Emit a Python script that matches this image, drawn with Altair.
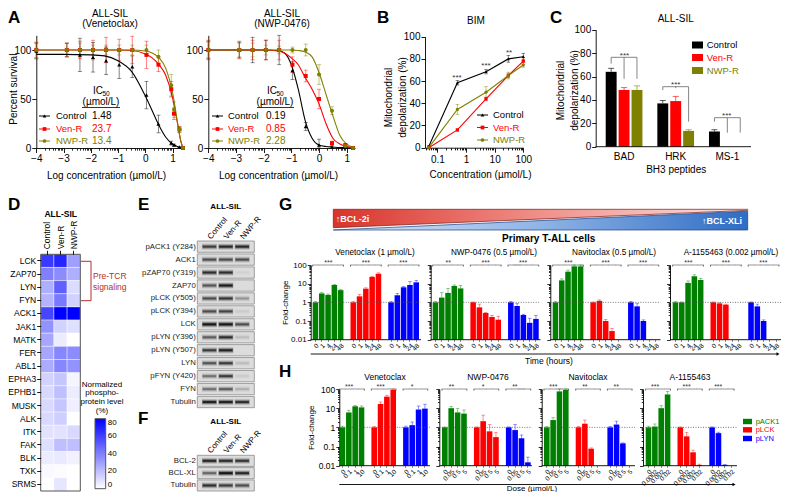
import math
import altair as alt
import pandas as pd

W, H = 774, 484
FONT = "Liberation Sans"
SERIES = ["Control", "Ven-R", "NWP-R"]
SERIES_COLORS = ["#000000", "#ff0000", "#808000"]
SERIES_SHAPES = ["triangle-up", "square", "circle"]
MARKERS = ["pACK1", "pLCK", "pLYN"]
MARKER_COLORS = ["#008000", "#ff0000", "#0000ff"]

# ---- Panel A ----
A_MAJOR_TICKS = [-4, -3, -2, -1, 0, 1]
A1_CURVE_X = [-4, -3, -2, -1.5, -1, -0.5, 0, 0.25, 0.5, 0.75, 1, 1.1, 1.2, 1.3, 1.38]
A1_CONTROL_CURVE = [95.5, 95.5, 95, 94, 89, 78, 53, 38, 23, 11, 4, 2.5, 1, 0.4, 0]
A1_VENR_CURVE = [100, 100, 100, 100, 100, 99.5, 96, 92, 85, 74, 51, 37, 22, 7, 0]
A1_NWPR_CURVE = [100, 100, 100, 100, 100, 100, 99, 97, 92, 81, 56, 40, 22, 7, 0]
A1_X = [-4, -2.88, -2.4, -1.92, -1.44, -0.96, -0.48, 0.04, 0.48, 0.95, 1.05, 1.25, 1.38]
A1_CONTROL = [99, 100, 95, 92.5, 89, 85, 83, 54, 24.5, 5, 3, 1, 0]
A1_CONTROL_ERR = [8, 7, 17, 15, 14, 14, 11, 14, 9, 2, 1, 0, 0]
A1_VENR = [100, 100, 100, 100, 100, 100, 100, 95, 85, 60, 35, 19, 0]
A1_VENR_ERR = [8, 7, 9, 10, 13, 11, 14, 14, 7, 8, 6, 3, 0]
A1_NWPR = [100, 100, 100, 100, 100, 100, 100, 100, 93, 64, 39, 19, 0]
A1_NWPR_ERR = [8, 7, 7, 5, 5, 5, 5, 5, 7, 11, 8, 3, 0]

A2_CURVE_X = [-4, -3, -2, -1.5, -1.25, -1, -0.75, -0.5, -0.25, 0, 0.25, 0.5, 0.75, 1, 1.3]
A2_CONTROL_CURVE = [100, 100, 100, 99.5, 97, 85, 60, 28, 10, 3, 1.5, 1, 0.5, 0.3, 0]
A2_VENR_CURVE = [100, 100, 100, 99, 97, 92, 85, 72, 60, 45, 25, 10, 4, 1.5, 0.5]
A2_NWPR_CURVE = [100, 100, 100, 100, 100, 100, 99.5, 98, 93, 77, 55, 33, 13, 4, 0.5]
A2_X = [-4, -2.88, -2.4, -1.92, -1.44, -0.96, -0.48, 0, 0.47, 0.95, 1.23]
A2_CONTROL = [100, 100, 100, 100, 100, 79, 22, 3, 1, 1, 0]
A2_CONTROL_ERR = [9, 8, 13, 10, 15, 9, 4, 6, 2, 1, 0]
A2_VENR = [100, 100, 100, 100, 100, 85, 73.5, 50, 5, 3, 0]
A2_VENR_ERR = [10, 9, 10, 10, 10, 8, 6, 10, 2, 1, 0]
A2_NWPR = [100, 100, 100, 100, 100, 100, 100, 75, 38, 2, 0]
A2_NWPR_ERR = [8, 7, 7, 5, 4, 3, 6, 10, 4, 1, 0]
A1_IC50 = ["1.48", "23.7", "13.4"]
A2_IC50 = ["0.19", "0.85", "2.28"]

# ---- Panel B ----
B_X = [0.05, 0.5, 5, 30, 100]
B_CONTROL = [1, 58.5, 68.5, 80, 82]
B_CONTROL_ERR = [1, 2, 2, 3, 3]
B_VENR = [0, 16, 44, 65, 78]
B_VENR_ERR = [0, 1, 1.5, 2, 3]
B_NWPR = [0, 34.5, 50, 65, 74.5]
B_NWPR_ERR = [0, 4.5, 5, 3, 2]

# ---- Panel C ----
C_PEPTIDES = ["BAD", "HRK", "MS-1"]
C_CONTROL = [64, 37, 13]
C_CONTROL_ERR = [3, 2.5, 1.5]
C_VENR = [48.5, 39, 0]
C_VENR_ERR = [2, 4, 0]
C_NWPR = [48.5, 13.5, 0]
C_NWPR_ERR = [3.5, 1, 0]
C_BRACKET_TOP = [76.4, 51.3, 24.8]
C_BRACKET_DROP_CONTROL = [71, 48.4, 21.4]
C_BRACKET_DROP_VENR = [58, 50, 12]
C_BRACKET_DROP_NWPR = [58, 21.4, 12]

# ---- Panel D ----
D_PROTEINS = ["LCK", "ZAP70", "LYN", "FYN", "ACK1", "JAK1", "MATK", "FER", "ABL1", "EPHA3",
              "EPHB1", "MUSK", "ALK", "ITK", "FAK", "BLK", "TXK", "SRMS"]
D_CONTROL = [62, 40, 25, 24, 58, 34, 28, 28, 26, 14, 12, 12, 12, 9, 10, 6, 2, 0]
D_VENR = [68, 36, 50, 42, 80, 14, 6, 38, 38, 18, 20, 18, 15, 9, 20, 7, 1, 8]
D_NWPR = [30, 25, 11, 14, 80, 10, 0, 36, 34, 3, 6, 5, 0, 12, 20, 4, 0, 0]

# ---- Panels E, F (band strength, 0-1) ----
E_ROWS = ["pACK1 (Y284)", "ACK1", "pZAP70 (Y319)", "ZAP70", "pLCK (Y505)", "pLCK (Y394)", "LCK",
          "pLYN (Y396)", "pLYN (Y507)", "LYN", "pFYN (Y420)", "FYN", "Tubulin"]
E_CONTROL = [0.7, 0.6, 0.8, 0.55, 0.6, 0.6, 1.0, 0.5, 0.7, 0.55, 0.4, 0.4, 0.9]
E_VENR = [0.85, 0.6, 0.8, 0.95, 0.75, 0.65, 1.0, 0.8, 0.9, 0.7, 0.7, 0.5, 0.9]
E_NWPR = [0.85, 0.6, 0.03, 0.0, 0.25, 0.05, 0.6, 0.1, 0.0, 0.1, 0.05, 0.15, 0.8]
F_ROWS = ["BCL-2", "BCL-XL", "Tubulin"]
F_CONTROL = [0.85, 0.45, 0.8]
F_VENR = [0.8, 1.0, 0.7]
F_NWPR = [0.75, 0.85, 0.6]

# ---- Panel G ----
G_TIMES = ["0", "1", "4", "24", "48"]
G_VEN_ACK1 = [1, 3, 2.5, 8.5, 4.5]
G_VEN_ACK1_UP = [1.1, 3.3, 2.8, 9, 5]
G_VEN_LCK = [1, 2.1, 5.4, 23, 34]
G_VEN_LCK_UP = [1.1, 2.6, 6, 25, 38]
G_VEN_LYN = [1, 2.4, 6.4, 8.5, 11.8]
G_VEN_LYN_UP = [1.1, 3, 7, 13, 15]
G_NWP_ACK1 = [1, 1.8, 3.2, 7.5, 5.6]
G_NWP_ACK1_UP = [1.1, 3.3, 5.5, 8.5, 8]
G_NWP_LCK = [1, 0.54, 0.27, 0.165, 0.118]
G_NWP_LCK_UP = [1.05, 0.8, 0.29, 0.2, 0.18]
G_NWP_LYN = [1, 0.64, 0.21, 0.08, 0.13]
G_NWP_LYN_UP = [1.1, 0.85, 0.23, 0.14, 0.2]
G_NAV_ACK1 = [1, 15, 44, 85, 85]
G_NAV_ACK1_UP = [1.1, 18, 53, 100, 100]
G_NAV_LCK = [1, 1.2, 0.1, 0.029, None]
G_NAV_LCK_UP = [1.05, 1.35, 0.12, 0.04, None]
G_NAV_LYN = [1, 0.61, 0.1, None, None]
G_NAV_LYN_UP = [1.1, 0.85, 0.115, None, None]
G_A11_ACK1 = [1, 1, 11, 25, 15.7]
G_A11_ACK1_UP = [1.1, 1.05, 14, 30, 19]
G_A11_LCK = [1, 0.88, 0.75, None, None]
G_A11_LCK_UP = [1.05, 0.95, 0.8, None, None]
G_A11_LYN = [1, 0.61, 0.1, None, None]
G_A11_LYN_UP = [1.05, 0.8, 0.115, None, None]
G_STARS = [["***", "***", "***"], ["**", "***", "***"], ["***", "***", "***"], ["***", "***", "***"]]
G_TITLES = ["Venetoclax (1 µmol/L)", "NWP-0476 (0.5 µmol/L)", "Navitoclax (0.5 µmol/L)", "A-1155463 (0.002 µmol/L)"]

# ---- Panel H ----
H_DOSES_VEN = ["0", "0.1", "1", "10"]
H_DOSES_NWP = ["0", "0.05", "0.5", "5"]
H_DOSES_NAV = ["0", "0.05", "0.5", "5"]
H_DOSES_A11 = ["0", "0.0002", "0.002", "0.02"]
H_VEN_ACK1 = [1, 6, 12.5, 11]
H_VEN_ACK1_UP = [1.15, 7.8, 14, 13]
H_VEN_LCK = [1, 16.5, 40, 90]
H_VEN_LCK_UP = [1.1, 21, 47, 100]
H_VEN_LYN = [1, 1.3, 8.5, 9.5]
H_VEN_LYN_UP = [1.15, 1.9, 13, 16]
H_NWP_ACK1 = [1, 10, 6, 5.2]
H_NWP_ACK1_UP = [1.05, 12.5, 9.5, 8]
H_NWP_LCK = [1, 2.1, 0.62, 0.31]
H_NWP_LCK_UP = [1.05, 4.3, 1.4, 0.55]
H_NWP_LYN = [1, 0.72, 0.27, 0.015]
H_NWP_LYN_UP = [1.05, 1.4, 0.4, 0.028]
H_NAV_ACK1 = [1, 2.4, 75, 90]
H_NAV_ACK1_UP = [1.1, 3.2, 100, 100]
H_NAV_LCK = [1, 1.55, 0.077, None]
H_NAV_LCK_UP = [1.1, 2.4, 0.085, None]
H_NAV_LYN = [1, 1.4, 0.146, None]
H_NAV_LYN_UP = [1.1, 2.1, 0.155, None]
H_A11_ACK1 = [1, 1.1, 10, 52]
H_A11_ACK1_UP = [1.15, 1.5, 13.5, 75]
H_A11_LCK = [1, 0.34, 0.05, 0.011]
H_A11_LCK_UP = [1.05, 0.55, 0.065, 0.012]
H_A11_LYN = [1, 0.5, 0.011, None]
H_A11_LYN_UP = [1.05, 0.56, 0.0115, None]
H_STARS = [["***", "***", "*"], ["**", "*", "**"], ["***", "**", "**"], ["***", "***", "***"]]
H_TITLES = ["Venetoclax", "NWP-0476", "Navitoclax", "A-1155463"]


def P(v):
    """Reference pixel (page) to chart pixel."""
    return round(v - 8, 2)


layers = []


def note(s, x, y, size=10, color="black", align="center", weight="normal", angle=0, baseline="middle"):
    mk = dict(fontSize=size, color=color, align=align, fontWeight=weight, baseline=baseline)
    if angle:
        mk["angle"] = angle
    layers.append(alt.Chart().mark_text(**mk).encode(
        x=alt.value(P(x)), y=alt.value(P(y)), text=alt.value(s)))


def hline(x0, x1, y, color="black", width=1.0):
    layers.append(alt.Chart().mark_rule(color=color, strokeWidth=width).encode(
        x=alt.value(P(x0)), x2=alt.value(P(x1)), y=alt.value(P(y))))


def vline(x, y0, y1, color="black", width=1.0):
    layers.append(alt.Chart().mark_rule(color=color, strokeWidth=width).encode(
        x=alt.value(P(x)), y=alt.value(P(y0)), y2=alt.value(P(y1))))


def marker(x, y, color, shape, size=14):
    layers.append(alt.Chart().mark_point(filled=True, color=color, shape=shape, size=size, opacity=1).encode(
        x=alt.value(P(x)), y=alt.value(P(y))))


def legend_sample(x0, x1, y, color, shape):
    hline(x0, x1, y, color, 1)
    marker((x0 + x1) / 2, y, color, shape)


def offset_bottom(y):
    return round(P(y) - H, 2)


series_color = alt.Color("series:N", scale=alt.Scale(domain=SERIES, range=SERIES_COLORS), legend=None)
series_shape = alt.Shape("series:N", scale=alt.Scale(domain=SERIES, range=SERIES_SHAPES), legend=None)


def long_points(x, vals, errs):
    rows = []
    for name, v, e in zip(SERIES, vals, errs):
        for a, b, c in zip(x, v, e):
            rows.append(dict(x=a, y=b, lo=max(b - c, 0), hi=b + c, series=name))
    return pd.DataFrame(rows)


def long_curve(x, vals):
    rows = []
    for name, v in zip(SERIES, vals):
        for a, b in zip(x, v):
            rows.append(dict(x=a, y=b, series=name))
    return pd.DataFrame(rows)


def line_panel(xs, ys, xaxis, yaxis, curve, pts, point_size=16, interp="monotone", cap=4, minor_axis=None):
    X = lambda ax=None: alt.X("x:Q", scale=xs, axis=ax, title=None)
    Y = lambda ax=None, f="y": alt.Y(f + ":Q", scale=ys, axis=ax, title=None)
    layers.extend([
        alt.Chart(pts).mark_rule(strokeWidth=0.9, opacity=0.55).encode(
            x=X(xaxis), y=Y(yaxis, "lo"), y2="hi:Q", color=series_color),
        alt.Chart(pts).mark_tick(orient="horizontal", size=cap, thickness=0.8, opacity=0.55).encode(
            x=X(minor_axis), y=Y(None, "hi"), color=series_color),
        alt.Chart(pts).mark_tick(orient="horizontal", size=cap, thickness=0.8, opacity=0.55).encode(
            x=X(), y=Y(None, "lo"), color=series_color),
        alt.Chart(curve).mark_line(strokeWidth=1.1, interpolate=interp).encode(
            x=X(), y=Y(), color=series_color, detail="series:N"),
        alt.Chart(pts).mark_point(filled=True, opacity=1, size=point_size).encode(
            x=X(), y=Y(), color=series_color, shape=series_shape),
    ])


# ---------- Panel A ----------
def a_minor_ticks():
    out = []
    for k in A_MAJOR_TICKS:
        for j in range(2, 10):
            v = k + math.log10(j)
            if v <= 1.3:
                out.append(round(v, 4))
    return out


def a_axis_x(y0, title, title_x):
    return alt.Axis(values=A_MAJOR_TICKS, format="d", orient="bottom", offset=offset_bottom(y0), title=title,
                    titleX=title_x, titleY=27, titleBaseline="middle", tickSize=4.5, labelFontSize=10, labelPadding=1,
                    labelOverlap=False, labelFlush=False)


def a_axis_minor(y0):
    return alt.Axis(values=a_minor_ticks(), orient="bottom", offset=offset_bottom(y0), title=None, labels=False,
                    domain=False, tickSize=2.2, tickWidth=0.8)


for (x0, x1, xmax, tx, cx, c1, c2, c3, px_, p1, e1, p2, e2, p3, e3, ytitle) in [
    (36.3, 183, 1.38, P(106), A1_CURVE_X, A1_CONTROL_CURVE, A1_VENR_CURVE, A1_NWPR_CURVE, A1_X,
     A1_CONTROL, A1_CONTROL_ERR, A1_VENR, A1_VENR_ERR, A1_NWPR, A1_NWPR_ERR, True),
    (208.3, 355, 1.3, P(278), A2_CURVE_X, A2_CONTROL_CURVE, A2_VENR_CURVE, A2_NWPR_CURVE, A2_X,
     A2_CONTROL, A2_CONTROL_ERR, A2_VENR, A2_VENR_ERR, A2_NWPR, A2_NWPR_ERR, False),
]:
    xs = alt.Scale(domain=[-4, xmax], range=[P(x0), P(x1)], nice=False, zero=False)
    ys = alt.Scale(domain=[0, 115], range=[P(148), P(35.3)], nice=False, zero=False)
    yax = dict(values=[0, 50, 100], orient="left", offset=-P(x0), tickSize=4.5, labelFontSize=10, labelPadding=1,
               labelOverlap=False)
    if ytitle:
        yax.update(title="Percent survival", titleX=round(13 - x0, 1), titleY=P(88.7), titleBaseline="middle")
    else:
        yax.update(title=None)
    line_panel(xs, ys, a_axis_x(148, "Log concentration (µmol/L)", tx), alt.Axis(**yax),
               long_curve(cx, [c1, c2, c3]),
               long_points(px_, [p1, p2, p3], [e1, e2, e3]),
               minor_axis=a_axis_minor(148))

note("ALL-SIL", 110, 13.5)
note("(Venetoclax)", 110, 24)
note("ALL-SIL", 282, 13.5)
note("(NWP-0476)", 282, 24)
for xl0, xl1, xt, xn, xc, ul0, ul1, ics in [(39, 50, 56, 92, 98, 82, 120, A1_IC50), (212, 223, 228, 266, 272, 257, 294, A2_IC50)]:
    note("IC", xc, 91, 10, align="center")
    note("50", xc + 8, 93.5, 6.5, align="center")
    note("(µmol/L)", xc + 3, 102, 10)
    hline(ul0, ul1, 107.5, "black", 0.8)
    for ser, col, shp, yy, ic in zip(SERIES, SERIES_COLORS, SERIES_SHAPES, [116, 129, 141], ics):
        legend_sample(xl0, xl1, yy, col, shp)
        note(ser, xt, yy, 9.5, col, align="left")
        note(ic, xn, yy, 10, col, align="left")

# ---------- Panel B ----------
b_ticks = [round(j * 10.0 ** k, 4) for k in range(-2, 2) for j in range(1, 10)]
b_ticks = [v for v in b_ticks if v >= 0.04] + [100]
b_xs = alt.Scale(type="log", domain=[0.037, 100], range=[P(425), P(523.3)], nice=False)
b_ys = alt.Scale(domain=[0, 100], range=[P(147.7), P(36.7)], nice=False, zero=False)
b_major = "datum.value==0.1||datum.value==1||datum.value==10||datum.value==100"
line_panel(
    b_xs, b_ys,
    alt.Axis(values=b_ticks, format="~g", orient="bottom", offset=offset_bottom(147.7), title="Concentration (µmol/L)",
             titleX=P(480), titleY=27, titleBaseline="middle", labelFontSize=10, labelPadding=2,
             labelExpr=f"{b_major} ? datum.label : ''", labelOverlap=False, labelFlush=False,
             tickSize={"condition": {"test": b_major, "value": 4.5}, "value": 2.2}),
    alt.Axis(values=[0, 20, 40, 60, 80, 100], orient="left", offset=-P(425), tickSize=4, labelFontSize=10, labelPadding=1,
             title=["Mitochondrial", "depolarization  (%)"], titleX=round(388 - 425, 1), titleY=P(97),
             titleBaseline="middle", titleLineHeight=14, labelOverlap=False),
    long_curve(B_X, [B_CONTROL, B_VENR, B_NWPR]),
    long_points(B_X, [B_CONTROL, B_VENR, B_NWPR], [B_CONTROL_ERR, B_VENR_ERR, B_NWPR_ERR]),
    point_size=10, interp="linear", cap=3.5)
note("BIM", 476, 21)
note("***", 457, 78, 8, "#333")
note("***", 486, 66, 8, "#333")
note("**", 509, 53, 8, "#333")
for ser, col, shp, yy in zip(SERIES, SERIES_COLORS, SERIES_SHAPES, [115, 127.5, 140]):
    legend_sample(477, 488, yy, col, shp)
    note(ser, 493, yy, 9.5, col, align="left")

# ---------- Panel C ----------
c_rows, c_domain = [], []
for i, pep in enumerate(C_PEPTIDES):
    if i:
        c_domain.append(f"gap{i}")
    for ser, v, e in zip(SERIES, [C_CONTROL, C_VENR, C_NWPR], [C_CONTROL_ERR, C_VENR_ERR, C_NWPR_ERR]):
        key = f"{pep}|{ser}"
        c_domain.append(key)
        c_rows.append(dict(key=key, y=v[i], hi=v[i] + e[i], series=ser))
c_df = pd.DataFrame(c_rows)
c_df_vis = c_df[c_df.y > 0]
c_xs = alt.Scale(domain=c_domain, range=[P(605.7), P(745.7)], paddingInner=0.154, paddingOuter=0)
c_ys = alt.Scale(domain=[0, 100], range=[P(146.7), P(29.7)], nice=False, zero=False)
CX = lambda ax=None: alt.X("key:N", scale=c_xs, axis=ax, title=None, sort=None)
CY = lambda ax=None, f="y": alt.Y(f + ":Q", scale=c_ys, axis=ax, title=None)
c_top = pd.DataFrame([dict(key=f"{p}|Control", key2=f"{p}|NWP-R", y=t) for p, t in zip(C_PEPTIDES, C_BRACKET_TOP)])
c_drops = []
for p, t, a, b, c in zip(C_PEPTIDES, C_BRACKET_TOP, C_BRACKET_DROP_CONTROL, C_BRACKET_DROP_VENR, C_BRACKET_DROP_NWPR):
    for ser, d in zip(SERIES, [a, b, c]):
        c_drops.append(dict(key=f"{p}|{ser}", y=t, y2=d))
layers.extend([
    alt.Chart(c_df_vis).mark_rule(strokeWidth=0.9, opacity=0.7).encode(
        x=CX(alt.Axis(values=[f"{p}|Ven-R" for p in C_PEPTIDES], orient="bottom", offset=offset_bottom(146.7), tickSize=0,
                      labelExpr="split(datum.value,'|')[0]", labelAngle=0, labelFontSize=10, labelPadding=5,
                      title="BH3 peptides", titleFontSize=10, titleY=22.5, titleBaseline="middle", titleX=P(675.7),
                      domain=False, zindex=1)),
        y=CY(alt.Axis(values=[0, 20, 40, 60, 80, 100], orient="left", offset=-P(595.7), tickSize=4, labelFontSize=10,
                      labelPadding=1, title=["Mitochondrial", "depolarization (%)"], titleX=round(560 - 595.7, 1),
                      titleY=P(90), titleBaseline="middle", titleLineHeight=14, labelOverlap=False)),
        y2="hi:Q", color=series_color),
    alt.Chart(c_df_vis).mark_tick(orient="horizontal", size=6, thickness=0.9, opacity=0.7).encode(
        x=CX(), y=CY(None, "hi"), color=series_color),
    alt.Chart(c_df_vis).mark_bar().encode(x=CX(), y=CY(), color=series_color),
    alt.Chart(c_top).mark_rule(color="#666666", strokeWidth=0.8).encode(x=CX(), x2="key2:N", y=CY()),
    alt.Chart(pd.DataFrame(c_drops)).mark_rule(color="#666666", strokeWidth=0.8).encode(x=CX(), y=CY(), y2="y2:Q"),
])
hline(595.7, 751, 146.7, "black", 0.9)
note("ALL-SIL", 675.7, 18.5)
note("***", 624.5, 56, 8, "#333")
note("***", 675.7, 85, 8, "#333")
note("***", 726.7, 116, 8, "#333")
for ser, col, yy in zip(SERIES, SERIES_COLORS, [45, 57.5, 70.5]):
    layers.append(alt.Chart().mark_rect(color=col).encode(
        x=alt.value(P(692)), x2=alt.value(P(703)), y=alt.value(P(yy - 3.5)), y2=alt.value(P(yy + 3.5))))
    note(ser, 706.7, yy, 9.5, col, align="left")

# ---------- Panel D ----------
DX = 5
d_rows = []
for i, prot in enumerate(D_PROTEINS):
    for ser, v in zip(SERIES, [D_CONTROL, D_VENR, D_NWPR]):
        d_rows.append(dict(protein=prot, series=ser, level=v[i]))
layers.append(alt.Chart(pd.DataFrame(d_rows)).mark_rect(stroke="white", strokeWidth=0.4).encode(
    x=alt.X("series:N", sort=SERIES, title=None,
            scale=alt.Scale(domain=SERIES, range=[P(35.7 + DX), P(75.3 + DX)], paddingInner=0, paddingOuter=0),
            axis=alt.Axis(orient="top", offset=-P(254.3), domain=False, tickSize=4, labelAngle=270, labelFontSize=8.5,
                          labelPadding=1.5)),
    y=alt.Y("protein:N", sort=D_PROTEINS, title=None,
            scale=alt.Scale(domain=D_PROTEINS, range=[P(254.3), P(491)], paddingInner=0, paddingOuter=0),
            axis=alt.Axis(orient="left", offset=-P(35.7 + DX), domain=False, tickSize=4, labelFontSize=8.5, labelPadding=1)),
    color=alt.Color("level:Q", scale=alt.Scale(domain=[0, 80], range=["#ffffff", "#0000ff"], interpolate="rgb"),
                    legend=alt.Legend(orient="none", legendX=P(90 + DX), legendY=P(418.7), direction="vertical", title=None,
                                      values=[0, 20, 40, 60, 80], gradientLength=70, gradientThickness=10.7,
                                      gradientStrokeColor="#555555", gradientStrokeWidth=1, labelFontSize=8, labelOffset=2,
                                      tickCount=5)),
))
layers.append(alt.Chart().mark_rect(fill="transparent", stroke="#555555", strokeWidth=1).encode(
    x=alt.value(P(35.7 + DX)), x2=alt.value(P(75.3 + DX)), y=alt.value(P(254.3)), y2=alt.value(P(491))))
note("ALL-SIL", 55.7 + DX, 214, 8.5, weight="bold")
BR = "#b5302a"
hline(76 + DX, 86 + DX, 261.3, BR, 1)
hline(76 + DX, 86 + DX, 300.7, BR, 1)
vline(86 + DX, 261.3, 300.7, BR, 1)
note("Pre-TCR", 88 + DX, 276, 8.5, BR, align="left")
note("signaling", 88 + DX, 286.5, 8.5, BR, align="left")
for s, yy in zip(["Normalized", "phospho-", "protein level", "(%)"], [384.7, 393.3, 402.3, 411.3]):
    note(s, 97 + DX, yy, 8)


# ---------- Panels E, F ----------
def blot(rows, c, v, n, y0, y1, pad, label_y):
    lanes = SERIES
    data = []
    for i, r in enumerate(rows):
        for lane, arr in zip(lanes, [c, v, n]):
            s = arr[i]
            data.append(dict(row=r, lane=lane, a=s * 0.92, b=s * 0.4, d=s * 0.2))
    df = pd.DataFrame(data)
    bg = pd.DataFrame({"row": rows})
    xs = alt.Scale(domain=lanes, range=[P(197.3), P(254.3)], paddingInner=0, paddingOuter=0.24)
    ys = alt.Scale(domain=rows, range=[P(y0), P(y1)], paddingInner=pad, paddingOuter=0)
    X = lambda ax=None: alt.X("lane:N", sort=lanes, scale=xs, axis=ax, title=None)
    Y = lambda ax=None: alt.Y("row:N", sort=rows, scale=ys, axis=ax, title=None)
    def band(col, thick, size, ax=None):
        return alt.Chart(df).mark_tick(orient="horizontal", size=size, thickness=thick, color="#101010").encode(
            x=X(ax), y=Y(), opacity=alt.Opacity(f"{col}:Q", scale=None))
    layers.extend([
        alt.Chart(bg).mark_rect(fill="#dcdcdc", stroke="#8a8a8a", strokeWidth=0.8).encode(
            y=Y(alt.Axis(orient="left", offset=-P(197.3), domain=False, ticks=False, labelFontSize=7.8, labelPadding=2,
                         labelColor="#222222")),
            x=alt.value(P(197.3)), x2=alt.value(P(254.3))),
        band("d", 6, 15),
        band("b", 4, 14.5),
        band("a", 2, 13.5, alt.Axis(orient="top", offset=-P(label_y), domain=False, ticks=False, labelAngle=310,
                                    labelAlign="left", labelBaseline="middle", labelFontSize=8, labelPadding=0)),
    ])


blot(E_ROWS, E_CONTROL, E_VENR, E_NWPR, 241, 407.7, 0.127, 238)
blot(F_ROWS, F_CONTROL, F_VENR, F_NWPR, 455.3, 491, 0.1, 452)
note("ALL-SIL", 225.7, 207, 8, weight="bold")
note("ALL-SIL", 225.7, 422, 8, weight="bold")


# ---------- Panels G, H bars ----------
y_ticks = [round(j * 10.0 ** k, 4) for k in range(-2, 2) for j in range(1, 10)] + [100]
y_major = "datum.value==0.01||datum.value==0.1||datum.value==1||datum.value==10||datum.value==100"
marker_color = alt.Color("marker:N", scale=alt.Scale(domain=MARKERS, range=MARKER_COLORS), legend=None)


def bar_panel(x0, x1, b0, b1, yb, yt, labels, values, ups, stars, first, y_title_x, label_font, tick_font):
    domain, rows, groups = [], [], []
    for m, (name, v, u) in enumerate(zip(MARKERS, values, ups)):
        if m:
            domain.append(f"gap{m}")
        keys = [f"{name}|{lab}" for lab in labels]
        domain.extend(keys)
        groups.append(keys)
        for k, a, b in zip(keys, v, u):
            if a is not None:
                rows.append(dict(key=k, y=a, hi=b, base=0.01, marker=name))
    df = pd.DataFrame(rows)
    shown = [k for g in groups for k in g]
    xs = alt.Scale(domain=domain, range=[P(b0), P(b1)], paddingInner=0.12, paddingOuter=0)
    ys = alt.Scale(type="log", domain=[0.01, 100], range=[P(yb), P(yt)], nice=False)
    X = lambda ax=None: alt.X("key:N", scale=xs, axis=ax, title=None, sort=None)
    Y = lambda ax=None, f="y": alt.Y(f + ":Q", scale=ys, axis=ax, title=None)
    yargs = dict(values=y_ticks, orient="left", offset=-P(x0), labelOverlap=False, labelFlush=False,
                 tickSize={"condition": {"test": y_major, "value": 3.5}, "value": 1.8}, tickWidth=0.8)
    if first:
        yargs.update(format="~g", labelExpr=f"{y_major} ? datum.label : ''", labelFontSize=tick_font, labelPadding=1,
                     title="Fold-change", titleFontSize=8, titleX=y_title_x, titleBaseline="middle")
    else:
        yargs.update(labels=False, title=None)
    step = (b1 - b0) / (len(domain) - 0.12)
    bracket_rows, hook0, hook1, star_rows = [], [], [], []
    for g, s in zip(groups, stars):
        for k in g:
            bracket_rows.append(dict(key=k, y=100))
        hook0.append(dict(key=g[0], y=100, y2=82))
        hook1.append(dict(key=g[-1], y=100, y2=82))
        mid = g[len(g) // 2] if len(g) % 2 else g[len(g) // 2 - 1]
        star_rows.append(dict(key=mid, y=100, s=s))
    star_band = 0.5 if len(labels) % 2 else 1
    dotted = alt.Chart().mark_rule(strokeDash=[1, 1.5], color="#555555", strokeWidth=0.8).encode(
        y=alt.Y(datum=1, type="quantitative", scale=ys, axis=None, title=None),
        x=alt.value(P(x0)), x2=alt.value(P(x1)))
    layers.extend([
        alt.Chart(df).mark_rule(strokeWidth=0.9, opacity=0.5).encode(
            x=X(alt.Axis(values=shown, orient="bottom", offset=offset_bottom(yb), tickSize=1.5, tickWidth=0.6, domain=False,
                         labelExpr="split(datum.value,'|')[1]", labelAngle=315, labelFontSize=label_font, labelPadding=1,
                         labelOverlap=False, labelFlush=False, zindex=1)),
            y=Y(alt.Axis(**yargs)), y2="hi:Q", color=marker_color),
        alt.Chart(df).mark_tick(orient="horizontal", size=3.5, thickness=0.8, opacity=0.5).encode(
            x=X(), y=Y(None, "hi"), color=marker_color),
        alt.Chart(df).mark_bar().encode(x=X(), y=Y(), y2="base:Q", color=marker_color),
        dotted,
        alt.Chart(pd.DataFrame(bracket_rows)).mark_tick(orient="horizontal", size=round(step + 0.3, 2), thickness=0.8,
                                                        color="#444444").encode(x=X(), y=Y()),
        alt.Chart(pd.DataFrame(hook0)).mark_rule(color="#444444", strokeWidth=0.7).encode(
            x=alt.X("key:N", scale=xs, axis=None, title=None, sort=None, bandPosition=0), y=Y(), y2="y2:Q"),
        alt.Chart(pd.DataFrame(hook1)).mark_rule(color="#444444", strokeWidth=0.7).encode(
            x=alt.X("key:N", scale=xs, axis=None, title=None, sort=None, bandPosition=1), y=Y(), y2="y2:Q"),
        alt.Chart(pd.DataFrame(star_rows)).mark_text(fontSize=7, color="#333333", dy=-2.5, baseline="middle").encode(
            x=alt.X("key:N", scale=xs, axis=None, title=None, sort=None, bandPosition=star_band), y=Y(), text="s:N"),
    ])
    hline(x0, x1, yb, "black", 0.9)


G_VALUES = [
    ([G_VEN_ACK1, G_VEN_LCK, G_VEN_LYN], [G_VEN_ACK1_UP, G_VEN_LCK_UP, G_VEN_LYN_UP]),
    ([G_NWP_ACK1, G_NWP_LCK, G_NWP_LYN], [G_NWP_ACK1_UP, G_NWP_LCK_UP, G_NWP_LYN_UP]),
    ([G_NAV_ACK1, G_NAV_LCK, G_NAV_LYN], [G_NAV_ACK1_UP, G_NAV_LCK_UP, G_NAV_LYN_UP]),
    ([G_A11_ACK1, G_A11_LCK, G_A11_LYN], [G_A11_ACK1_UP, G_A11_LCK_UP, G_A11_LYN_UP]),
]
G_AXIS_X = [(310.7, 421, 312.7, 419), (430.7, 540.5, 432.7, 538.7), (550.3, 660.5, 552.7, 658.7), (670, 781, 672.7, 779)]
G_TITLE_X = [375, 494, 614, 731]
for i, ((v, u), (a, b, c, d)) in enumerate(zip(G_VALUES, G_AXIS_X)):
    bar_panel(a, b, c, d, 339.7, 265, G_TIMES, v, u, G_STARS[i], i == 0, round(285 - 310.7, 1), 6.5, 8)
    note(G_TITLES[i], G_TITLE_X[i], 253, 8.2)

H_VALUES = [
    (H_DOSES_VEN, [H_VEN_ACK1, H_VEN_LCK, H_VEN_LYN], [H_VEN_ACK1_UP, H_VEN_LCK_UP, H_VEN_LYN_UP]),
    (H_DOSES_NWP, [H_NWP_ACK1, H_NWP_LCK, H_NWP_LYN], [H_NWP_ACK1_UP, H_NWP_LCK_UP, H_NWP_LYN_UP]),
    (H_DOSES_NAV, [H_NAV_ACK1, H_NAV_LCK, H_NAV_LYN], [H_NAV_ACK1_UP, H_NAV_LCK_UP, H_NAV_LYN_UP]),
    (H_DOSES_A11, [H_A11_ACK1, H_A11_LCK, H_A11_LYN], [H_A11_ACK1_UP, H_A11_LCK_UP, H_A11_LYN_UP]),
]
H_AXIS_X = [(339.3, 430, 339.7, 427.7), (439.3, 532, 442, 530.7), (541.7, 635, 544, 632), (643, 737, 645.7, 734)]
H_TITLE_X = [385, 488, 588, 690]
for i, ((l, v, u), (a, b, c, d)) in enumerate(zip(H_VALUES, H_AXIS_X)):
    bar_panel(a, b, c, d, 465.7, 389, l, v, u, H_STARS[i], i == 0, round(311.7 - 339.3, 1), 6.5, 8.5)
    note(H_TITLES[i], H_TITLE_X[i], 377, 8.5)

# ---------- Banner ----------
BANNER_POS = [0, 1]
RED_TOP = [1, 1]
RED_BOTTOM = [0.11, 0.95]
BLUE_TOP = [0, 0.91]
BLUE_BOTTOM = [0, 0]
bx = alt.Scale(domain=[0, 1], range=[P(333.3), P(747.7)], nice=False, zero=False)
by = alt.Scale(domain=[0, 1], range=[P(230), P(209.3)], nice=False, zero=False)
banner = pd.DataFrame(dict(p=BANNER_POS, rt=RED_TOP, rb=RED_BOTTOM, bt=BLUE_TOP, bb=BLUE_BOTTOM))
red_grad = alt.LinearGradient(gradient="linear", stops=[alt.GradientStop(color="#d8342b", offset=0),
                                                        alt.GradientStop(color="#f0908a", offset=0.5),
                                                        alt.GradientStop(color="#fbe4e2", offset=1)],
                              x1=0, x2=1, y1=0, y2=0)
blue_grad = alt.LinearGradient(gradient="linear", stops=[alt.GradientStop(color="#dbe7f7", offset=0),
                                                         alt.GradientStop(color="#8fb4e6", offset=0.5),
                                                         alt.GradientStop(color="#2f6cc4", offset=1)],
                               x1=0, x2=1, y1=0, y2=0)
layers.extend([
    alt.Chart(banner).mark_area(color=red_grad, stroke="#7a1a14", strokeWidth=0.7).encode(
        x=alt.X("p:Q", scale=bx, axis=None, title=None), y=alt.Y("rt:Q", scale=by, axis=None, title=None), y2="rb:Q"),
    alt.Chart(banner).mark_area(color=blue_grad, stroke="#1b3f86", strokeWidth=0.7).encode(
        x=alt.X("p:Q", scale=bx, axis=None, title=None), y=alt.Y("bt:Q", scale=by, axis=None, title=None), y2="bb:Q"),
])
note("↑BCL-2i", 335.7, 219, 9, "white", align="left", weight="bold")
note("↑BCL-XLi", 742, 221, 9, "white", align="right", weight="bold")
note("Primary T-ALL cells", 548.7, 239, 10, weight="bold")

# Arrows below G and H
hline(310.7, 778, 354, "black", 0.9)
marker(778, 354, "black", "triangle-right", 12)
note("Time (hours)", 549, 361, 8.5)
hline(339.3, 734, 484.5, "black", 0.9)
marker(734, 484.5, "black", "triangle-right", 12)
note("Dose (µmol/L)", 532, 488.5, 8)

# Legend G/H
for name, col, yy in zip(MARKERS, MARKER_COLORS, [421.5, 429.8, 438.5]):
    layers.append(alt.Chart().mark_rect(color=col).encode(
        x=alt.value(P(743)), x2=alt.value(P(752)), y=alt.value(P(yy - 2.7)), y2=alt.value(P(yy + 2.7))))
    note(name, 755.7, yy, 7.5, col, align="left")

# Panel letters
for s, x, y in [("A", 8, 17.5), ("B", 377, 17.5), ("C", 550, 17.5), ("D", 8, 205), ("E", 138, 205),
                ("F", 138, 419), ("G", 279, 205), ("H", 279, 372)]:
    note(s, x, y, 17, align="left", weight="bold")

chart = (
    alt.layer(*layers)
    .resolve_scale(x="independent", y="independent", color="independent", shape="independent", opacity="independent")
    .properties(width=W, height=H, autosize=alt.AutoSizeParams(type="none"), padding=0, background="white")
    .configure(font=FONT)
    .configure_view(stroke="transparent")
    .configure_axis(grid=False, domainColor="black", tickColor="black", labelColor="black", titleColor="black",
                    titleFontWeight="normal", titleFontSize=10, domainWidth=0.9, tickWidth=0.9)
)
chart.save("out.html", embed_options={"renderer": "svg", "actions": False})
